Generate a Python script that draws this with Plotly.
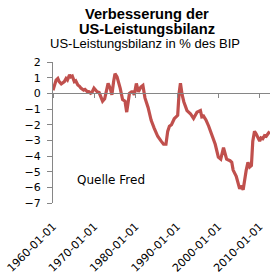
import plotly.graph_objects as go

dates = [
    "1960-01-01", "1960-07-01", "1960-10-01", "1961-03-01", "1961-07-01", "1962-01-01",
    "1962-07-01", "1962-10-01", "1963-03-01", "1963-07-01", "1964-01-01", "1964-05-01",
    "1964-09-01", "1965-03-01", "1965-07-01", "1966-01-01", "1966-06-01", "1966-10-01",
    "1967-06-01", "1967-10-01", "1968-04-01", "1968-10-01", "1969-02-01", "1969-06-01",
    "1969-12-01", "1970-04-01", "1970-09-01", "1971-03-01", "1971-07-01", "1972-01-01",
    "1972-07-01", "1973-01-01", "1973-05-01", "1973-11-01", "1974-04-01", "1974-09-01",
    "1975-01-01", "1975-07-01", "1976-01-01", "1976-04-01", "1976-11-01", "1977-06-01",
    "1977-11-01", "1978-03-01", "1978-07-01", "1979-01-01", "1979-05-01", "1979-09-01",
    "1980-03-01", "1980-09-01", "1981-04-01", "1981-10-01", "1982-04-01", "1983-01-01",
    "1983-10-01", "1984-07-01", "1984-11-01", "1985-05-01", "1986-03-01", "1986-10-01",
    "1987-05-01", "1987-10-01", "1988-03-01", "1988-09-01", "1989-05-01", "1990-03-01",
    "1990-07-01", "1990-11-01", "1991-04-01", "1991-09-01", "1992-06-01", "1993-04-01",
    "1994-01-01", "1994-11-01", "1995-09-01", "1996-01-01", "1996-06-01", "1997-01-01",
    "1997-09-01", "1998-06-01", "1999-04-01", "2000-01-01", "2000-08-01", "2001-04-01",
    "2001-09-01", "2002-01-01", "2002-11-01", "2003-04-01", "2003-08-01", "2004-05-01",
    "2005-03-01", "2005-06-01", "2006-01-01", "2006-05-01", "2006-10-01", "2007-03-01",
    "2007-08-01", "2008-01-01", "2008-05-01", "2008-10-01", "2009-03-01", "2010-01-01",
    "2010-05-01", "2010-10-01", "2011-03-01", "2011-08-01", "2012-01-01", "2012-06-01",
]
values = [
    0.2, 0.55, 0.85, 0.95, 0.75, 0.6,
    0.7, 0.75, 0.95, 0.85, 1.18, 1.05,
    1.1, 0.75, 0.8, 0.53, 0.45, 0.33,
    0.2, 0.25, 0.12, 0.1, 0.0, 0.05,
    0.33, 0.25, 0.1, 0.05, -0.18, -0.5,
    -0.35, 0.2, 0.63, 0.33, -0.1, 0.75,
    1.25, 1.05, 0.6, 0.33, -0.4, -0.5,
    -1.2, -0.7, 0.0, 0.1, 0.1, -0.1,
    0.63, 0.1, 0.4, 0.5, -0.29, -0.9,
    -1.72, -2.23, -2.43, -2.74, -3.05, -3.25,
    -3.25, -2.43, -2.1, -2.0, -1.62, -1.4,
    0.0, 0.65, -0.1, -0.55, -1.1, -1.3,
    -1.6, -1.2, -1.1, -1.5, -1.45, -1.7,
    -2.1, -2.6, -3.25, -4.07, -4.2, -3.46,
    -3.9, -4.2, -4.3, -4.4, -4.9, -5.3,
    -6.1, -5.9, -6.15, -5.5, -4.9, -4.4,
    -4.7, -4.6, -3.05, -2.43, -2.6, -3.05,
    -2.85, -2.9, -2.7, -2.74, -2.53, -2.43,
]

title_line1 = "Verbesserung der"
title_line2 = "US-Leistungsbilanz"
subtitle = "US-Leistungsbilanz in % des BIP"
source_note = "Quelle Fred"
y_ticks = [2, 1, 0, -1, -2, -3, -4, -5, -6, -7]

fig = go.Figure()
fig.add_trace(go.Scatter(
    x=dates, y=values, mode="lines",
    line=dict(color="#C0504D", width=3.2),
    showlegend=False, hoverinfo="skip",
))
# invisible trace to enable the overlay axis at y=0
fig.add_trace(go.Scatter(x=[dates[0]], y=[0], xaxis="x2", mode="markers",
                         marker=dict(opacity=0), showlegend=False, hoverinfo="skip"))

x_range = ["1960-01-01", "2012-07-01"]
tickfont = dict(family="DejaVu Sans", size=11, color="#000000")

fig.update_layout(
    width=275, height=280,
    margin=dict(l=50, r=5, t=62, b=71),
    paper_bgcolor="white", plot_bgcolor="white",
    xaxis=dict(
        type="date", range=x_range, tick0="1960-01-01", dtick="M120",
        tickformat="%Y-%m-%d", tickangle=-45, showgrid=False, zeroline=False,
        showline=False, ticks="", tickfont=tickfont, ticklabelstandoff=14,
    ),
    xaxis2=dict(
        type="date", range=x_range, tick0="1960-01-01", dtick="M120",
        overlaying="x", anchor="free", position=7 / 9, side="bottom",
        showline=True, linecolor="#868686", linewidth=1,
        ticks="outside", ticklen=4, tickcolor="#868686",
        showticklabels=False, showgrid=False, zeroline=False,
    ),
    yaxis=dict(
        range=[-7, 2], tickvals=y_ticks, showgrid=False, zeroline=False,
        showline=True, linecolor="#868686", linewidth=1,
        ticks="outside", ticklen=5, tickcolor="#868686",
        tickfont=tickfont, ticklabelstandoff=4,
    ),
    annotations=[
        dict(text="<b>" + title_line1 + "</b>", xref="paper", yref="paper",
             x=(145 - 50) / 220, y=(209 - 12) / 147, xanchor="center", yanchor="middle",
             showarrow=False, font=dict(family="Liberation Sans", size=14.67, color="#000000")),
        dict(text="<b>" + title_line2 + "</b>", xref="paper", yref="paper",
             x=(145 - 50) / 220, y=(209 - 28) / 147, xanchor="center", yanchor="middle",
             showarrow=False, font=dict(family="Liberation Sans", size=14.67, color="#000000")),
        dict(text=subtitle, xref="paper", yref="paper",
             x=(143.5 - 50) / 220, y=(209 - 43) / 147, xanchor="center", yanchor="middle",
             showarrow=False, font=dict(family="Liberation Sans", size=13, color="#000000")),
        dict(text=source_note, xref="paper", yref="paper",
             x=(72.7 - 50) / 220, y=(209 - 185) / 147, xanchor="left", yanchor="middle",
             showarrow=False, font=dict(family="DejaVu Sans", size=12, color="#000000")),
    ],
)

fig.write_html("out.html")
